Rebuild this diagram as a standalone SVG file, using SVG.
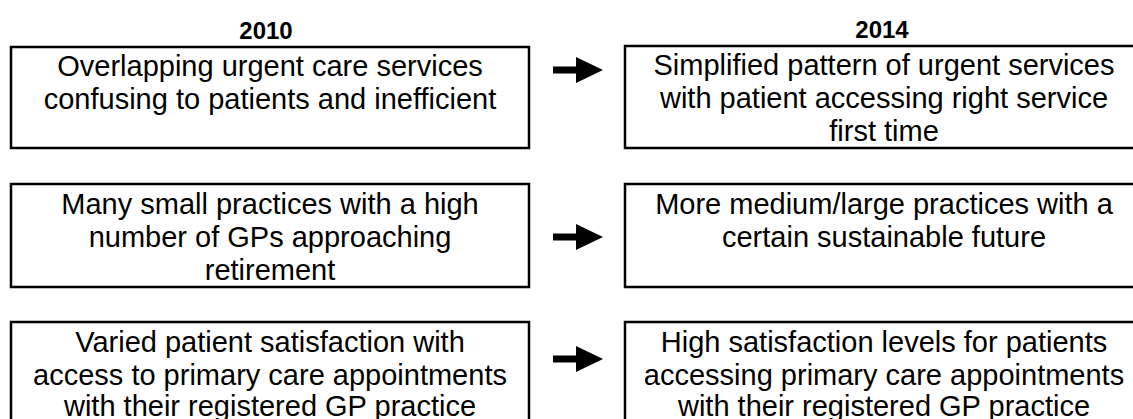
<svg xmlns="http://www.w3.org/2000/svg" width="1133" height="419" viewBox="0 0 1133 419">
<style>
.box{fill:#fff;stroke:#000;stroke-width:2.5}
.t{font-family:"Liberation Sans",Arial,sans-serif;font-size:29px;fill:#000;text-anchor:middle}
.h{font-family:"Liberation Sans",Arial,sans-serif;font-size:24px;font-weight:bold;fill:#000;text-anchor:middle}
.shaft{stroke:#000;stroke-width:7;fill:none}
</style>
<defs>
<marker id="ah" markerWidth="27" markerHeight="26" refX="0" refY="13" orient="auto" markerUnits="userSpaceOnUse">
<path d="M0,0 L27,13 L0,26 Z" fill="#000"/>
</marker>
</defs>
<rect width="1133" height="419" fill="#fff"/>
<text class="h" x="266" y="39">2010</text>
<text class="h" x="882" y="38">2014</text>
<g id="old1">
<rect class="box" x="11" y="47" width="518" height="101"/>
<text class="t" x="270" y="76">Overlapping urgent care services</text>
<text class="t" x="270" y="109">confusing to patients and inefficient</text>
</g>
<g id="new1">
<rect class="box" x="625" y="46" width="518" height="102"/>
<text class="t" x="884" y="75">Simplified pattern of urgent services</text>
<text class="t" x="884" y="108">with patient accessing right service</text>
<text class="t" x="884" y="141">first time</text>
</g>
<g id="old2">
<rect class="box" x="11" y="184" width="518" height="103"/>
<text class="t" x="270" y="214">Many small practices with a high</text>
<text class="t" x="270" y="247">number of GPs approaching</text>
<text class="t" x="270" y="280">retirement</text>
</g>
<g id="new2">
<rect class="box" x="625" y="184" width="518" height="103"/>
<text class="t" x="884" y="214">More medium/large practices with a</text>
<text class="t" x="884" y="247">certain sustainable future</text>
</g>
<g id="old3">
<rect class="box" x="11" y="322" width="518" height="110"/>
<text class="t" x="270" y="352">Varied patient satisfaction with</text>
<text class="t" x="270" y="385">access to primary care appointments</text>
<text class="t" x="270" y="416">with their registered GP practice</text>
</g>
<g id="new3">
<rect class="box" x="625" y="322" width="518" height="110"/>
<text class="t" x="884" y="352">High satisfaction levels for patients</text>
<text class="t" x="884" y="385">accessing primary care appointments</text>
<text class="t" x="884" y="416">with their registered GP practice</text>
</g>
<g id="connectors">
<line class="shaft" x1="553" y1="70" x2="576" y2="70" marker-end="url(#ah)"/>
<line class="shaft" x1="553" y1="237" x2="576" y2="237" marker-end="url(#ah)"/>
<line class="shaft" x1="553" y1="359" x2="576" y2="359" marker-end="url(#ah)"/>
</g>
</svg>
